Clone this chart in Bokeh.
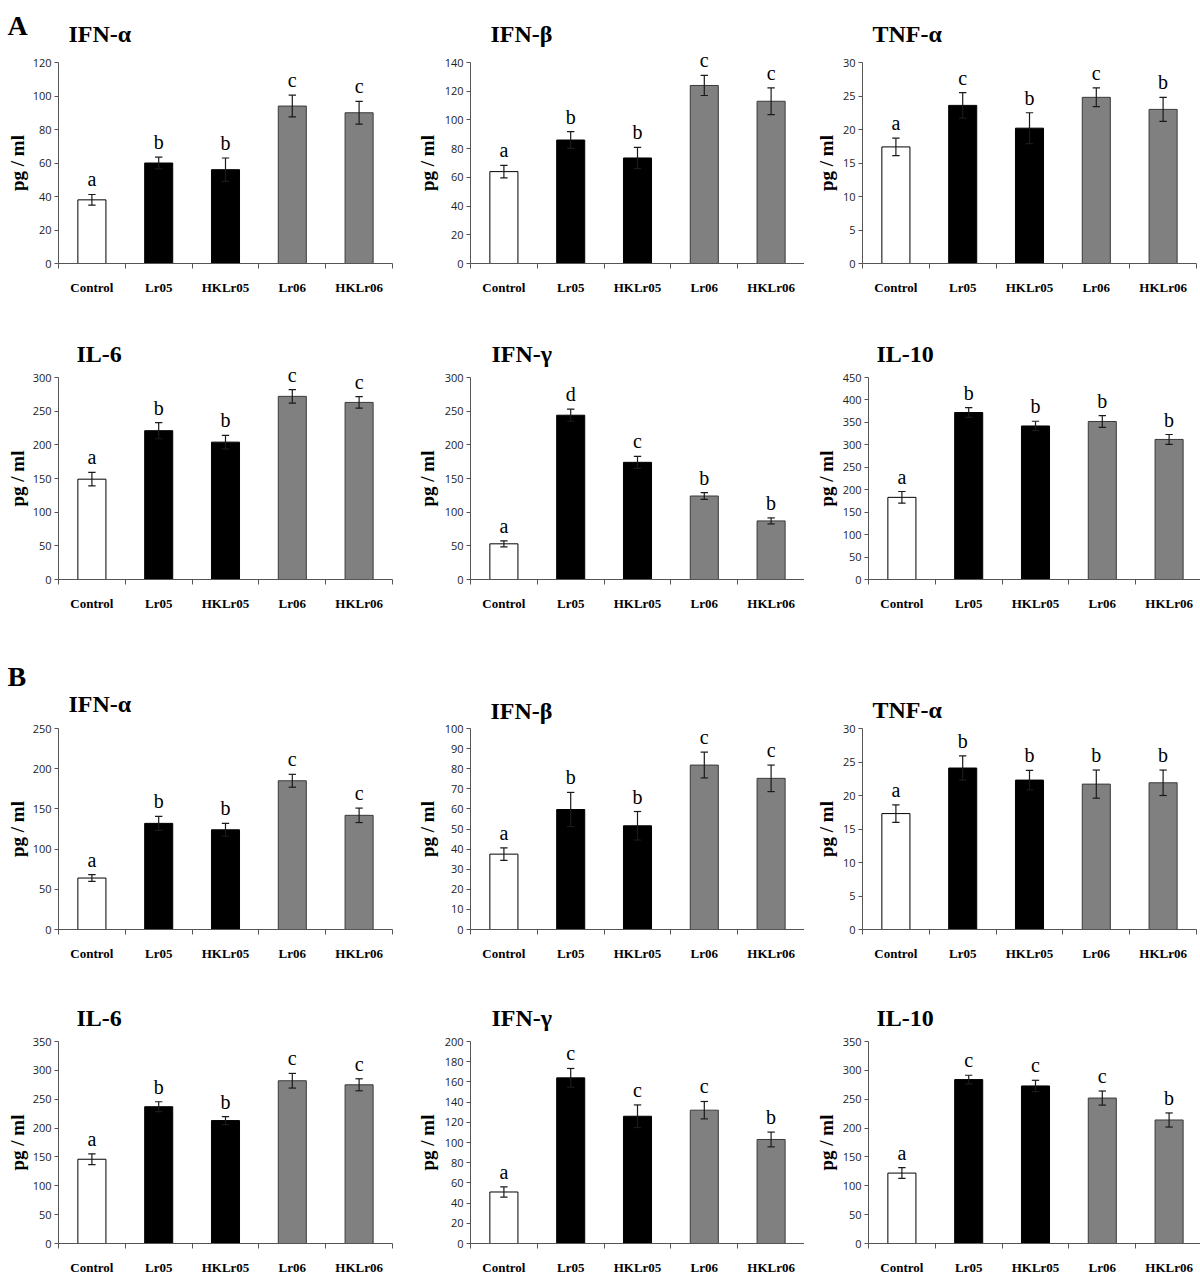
import math
from bokeh.plotting import figure
from bokeh.models import Range1d, FixedTicker, Label, LabelSet, ColumnDataSource
from bokeh.layouts import row, column
from bokeh.embed import file_html
from bokeh.resources import INLINE
from bokeh.core.properties import value

# ---------------- data ----------------
categories = ["Control", "Lr05", "HKLr05", "Lr06", "HKLr06"]
bar_fill = ["white", "black", "black", "#808080", "#808080"]
bar_line = ["black", "black", "black", "#3a3a3a", "#3a3a3a"]

# Panel A
a_titles = ["IFN-α", "IFN-β", "TNF-α", "IL-6", "IFN-γ", "IL-10"]
a_ymax = [120, 140, 30, 300, 300, 450]
a_ystep = [20, 20, 5, 50, 50, 50]

a_ifna_mean = [38, 60, 56, 94, 90]
a_ifna_err = [3.2, 3.5, 7.0, 6.5, 6.8]
a_ifna_sig = ["a", "b", "b", "c", "c"]

a_ifnb_mean = [64, 86, 73.5, 124, 113]
a_ifnb_err = [4.4, 5.8, 7.4, 7.0, 9.3]
a_ifnb_sig = ["a", "b", "b", "c", "c"]

a_tnfa_mean = [17.4, 23.6, 20.2, 24.8, 23.0]
a_tnfa_err = [1.3, 1.9, 2.3, 1.4, 1.8]
a_tnfa_sig = ["a", "c", "b", "c", "b"]

a_il6_mean = [149, 221, 204, 272, 263]
a_il6_err = [10, 12, 10, 10, 8.5]
a_il6_sig = ["a", "b", "b", "c", "c"]

a_ifng_mean = [53, 244, 174, 124, 87]
a_ifng_err = [4.5, 9, 9, 5, 4.5]
a_ifng_sig = ["a", "d", "c", "b", "b"]

a_il10_mean = [183, 372, 342, 352, 312]
a_il10_err = [13, 11, 10.5, 13, 11]
a_il10_sig = ["a", "b", "b", "b", "b"]

# Panel B
b_titles = ["IFN-α", "IFN-β", "TNF-α", "IL-6", "IFN-γ", "IL-10"]
b_ymax = [250, 100, 30, 350, 200, 350]
b_ystep = [50, 10, 5, 50, 20, 50]

b_ifna_mean = [64, 132, 124, 185, 142]
b_ifna_err = [4.2, 8.7, 8.0, 8.0, 9.0]
b_ifna_sig = ["a", "b", "b", "c", "c"]

b_ifnb_mean = [37.5, 59.7, 51.6, 81.8, 75.2]
b_ifnb_err = [3.1, 8.5, 7.1, 6.4, 6.6]
b_ifnb_sig = ["a", "b", "b", "c", "c"]

b_tnfa_mean = [17.3, 24.1, 22.3, 21.7, 21.9]
b_tnfa_err = [1.3, 1.8, 1.45, 2.1, 1.9]
b_tnfa_sig = ["a", "b", "b", "b", "b"]

b_il6_mean = [146, 237, 213, 282, 275]
b_il6_err = [9.3, 8.6, 7.0, 12.7, 10.4]
b_il6_sig = ["a", "b", "b", "c", "c"]

b_ifng_mean = [51, 164, 126, 132, 103]
b_ifng_err = [5.0, 9.3, 11.2, 8.6, 7.3]
b_ifng_sig = ["a", "c", "c", "c", "b"]

b_il10_mean = [122, 284, 273, 252, 214]
b_il10_err = [9.3, 7.5, 9.8, 12.2, 12.2]
b_il10_sig = ["a", "c", "c", "c", "b"]

# ---------------- layout geometry (page pixels) ----------------
SERIF = "Liberation Serif"
SANS = "Open Sans"
PX_PER_CAT = 66.8

col_x0 = [0, 400, 804]
col_w = [400, 404, 396]
row_y0 = [0, 310, 640, 983]
row_h = [310, 330, 343, 290]

axis_x = [[58, 470, 862], [58, 470, 868], [58, 470, 862], [58, 470, 868]]
axis_top = [62, 377, 728, 1041]
axis_zero = [263, 579, 929, 1243]

title_x = [[68, 490, 872], [76, 491, 876], [68, 490, 872], [76, 491, 876]]
title_base = [[33, 33, 33], [353, 353, 353], [703, 710, 709], [1017, 1017, 1017]]
ylab_base_x = [17, 427, 826]
block_letter_pos = [(7, 25), (7, 676)]


def make_panel(r, c, title, ymax, ystep, means, errs, sig, letter=None, letter_pos=None):
    X0, Y0, W, H = col_x0[c], row_y0[r], col_w[c], row_h[r]
    ax = axis_x[r][c]
    top, zero = axis_top[r], axis_zero[r]
    s = (zero - top) / ymax  # px per unit

    x_range = Range1d(-(ax - X0) / PX_PER_CAT, (X0 + W - ax) / PX_PER_CAT)
    y_range = Range1d(-(Y0 + H - zero) / s, ymax + (top - Y0) / s)

    p = figure(width=W, height=H, x_range=x_range, y_range=y_range,
               min_border_left=0, min_border_right=0, min_border_top=0, min_border_bottom=0,
               output_backend="svg", toolbar_location=None, tools="")
    p.title.visible = False
    p.outline_line_color = None
    p.xgrid.visible = False
    p.ygrid.visible = False
    p.background_fill_color = "white"
    p.border_fill_color = "white"

    def sx(px):
        return px - X0

    def sy(py):
        return H - (py - Y0)

    xs = [i + 0.5 for i in range(len(categories))]
    hi = [m + e for m, e in zip(means, errs)]
    lo = [m - e for m, e in zip(means, errs)]
    src = ColumnDataSource(dict(
        x=xs, top=means, hi=hi, lo=lo,
        cl=[x - 0.055 for x in xs], cr=[x + 0.055 for x in xs],
        fill=bar_fill, line=bar_line, sig=sig))
    p.vbar(x="x", top="top", bottom=0, width=0.42, fill_color="fill",
           line_color="line", line_width=1, source=src)
    p.segment(x0="x", y0="lo", x1="x", y1="hi", line_color="#1a1a1a", line_width=1.2, source=src)
    p.segment(x0="cl", y0="hi", x1="cr", y1="hi", line_color="#1a1a1a", line_width=1.2, source=src)
    p.segment(x0="cl", y0="lo", x1="cr", y1="lo", line_color="#1a1a1a", line_width=1.2, source=src)

    p.add_layout(LabelSet(x="x", y="hi", text="sig", source=src, y_offset=8,
                          text_align="center", text_baseline="alphabetic",
                          text_font=value(SERIF), text_font_size=value("20px"),
                          text_color="black"))

    # x axis, fixed at y = 0
    xa = p.xaxis[0]
    xa.fixed_location = 0
    xa.bounds = (0, 5)
    xa.ticker = FixedTicker(ticks=xs, minor_ticks=[0, 1, 2, 3, 4, 5])
    xa.major_label_overrides = {x: cat for x, cat in zip(xs, categories)}
    xa.major_tick_out = 0
    xa.major_tick_in = 0
    xa.minor_tick_out = 5
    xa.minor_tick_in = 0
    xa.major_label_standoff = 11
    xa.major_label_text_font = SERIF
    xa.major_label_text_font_style = "bold"
    xa.major_label_text_font_size = "13px"
    xa.major_label_text_color = "black"
    xa.axis_line_color = "#555555"
    xa.minor_tick_line_color = "#555555"

    # y axis, fixed at x = 0
    ya = p.yaxis[0]
    ya.fixed_location = 0
    ya.bounds = (0, ymax)
    ya.ticker = FixedTicker(ticks=list(range(0, ymax + 1, ystep)), minor_ticks=[])
    ya.major_tick_out = 4
    ya.major_tick_in = 0
    ya.minor_tick_line_color = None
    ya.major_label_standoff = 3
    ya.major_label_text_font = SANS
    ya.major_label_text_font_size = "11px"
    ya.major_label_text_color = "#222222"
    ya.axis_line_color = "#555555"
    ya.major_tick_line_color = "#555555"

    # panel title
    p.add_layout(Label(x=sx(title_x[r][c]), y=sy(title_base[r][c]), x_units="screen", y_units="screen",
                       text=title, text_font=SERIF, text_font_style="bold",
                       text_font_size="24px", text_baseline="alphabetic", text_align="left",
                       text_color="black"))
    # y axis label
    p.add_layout(Label(x=sx(ylab_base_x[c]), y=sy((top + zero) / 2), x_units="screen", y_units="screen",
                       text="pg / ml", angle=math.pi / 2, text_font=SERIF, text_font_style="bold",
                       text_font_size="19px", text_baseline="alphabetic", text_align="center",
                       text_color="black"))
    if letter:
        lx, ly = letter_pos
        p.add_layout(Label(x=sx(lx), y=sy(ly), x_units="screen", y_units="screen",
                           text=letter, text_font=SERIF, text_font_style="bold",
                           text_font_size="28px", text_baseline="alphabetic", text_align="left",
                           text_color="black"))
    return p


A = [
    (a_ifna_mean, a_ifna_err, a_ifna_sig),
    (a_ifnb_mean, a_ifnb_err, a_ifnb_sig),
    (a_tnfa_mean, a_tnfa_err, a_tnfa_sig),
    (a_il6_mean, a_il6_err, a_il6_sig),
    (a_ifng_mean, a_ifng_err, a_ifng_sig),
    (a_il10_mean, a_il10_err, a_il10_sig),
]
B = [
    (b_ifna_mean, b_ifna_err, b_ifna_sig),
    (b_ifnb_mean, b_ifnb_err, b_ifnb_sig),
    (b_tnfa_mean, b_tnfa_err, b_tnfa_sig),
    (b_il6_mean, b_il6_err, b_il6_sig),
    (b_ifng_mean, b_ifng_err, b_ifng_sig),
    (b_il10_mean, b_il10_err, b_il10_sig),
]

rows = []
for block, (titles, ymaxs, steps, data, letter) in enumerate([
        (a_titles, a_ymax, a_ystep, A, "A"),
        (b_titles, b_ymax, b_ystep, B, "B")]):
    for rr in range(2):
        r = block * 2 + rr
        figs = []
        for c in range(3):
            k = rr * 3 + c
            m, e, s = data[k]
            lt = letter if (rr == 0 and c == 0) else None
            figs.append(make_panel(r, c, titles[k], ymaxs[k], steps[k], m, e, s,
                                   lt, block_letter_pos[block]))
        rows.append(row(*figs, spacing=0))

layout = column(*rows, spacing=0)

open("out.html", "w").write(file_html(layout, INLINE))
